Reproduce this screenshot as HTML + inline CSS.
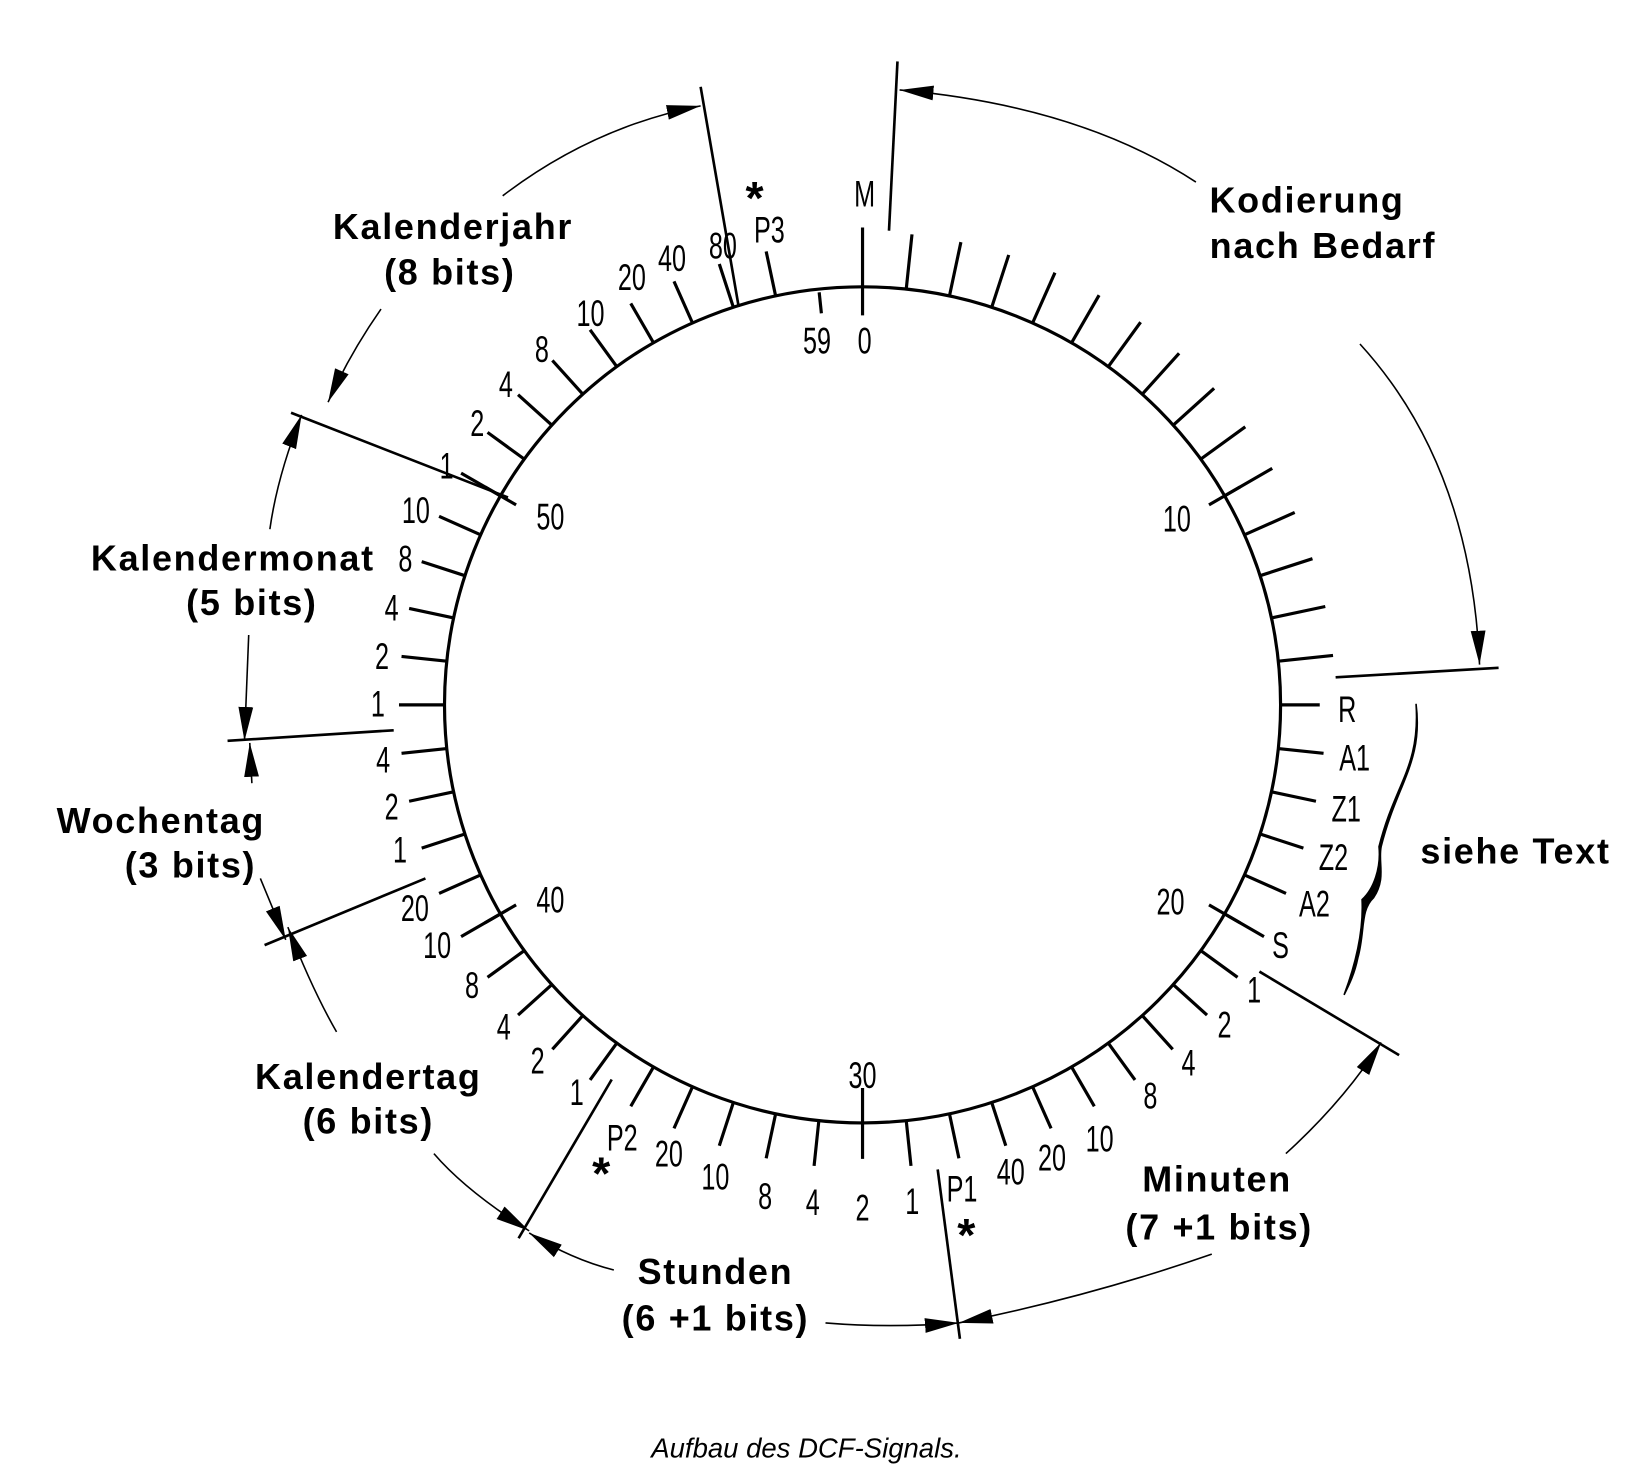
<!DOCTYPE html>
<html><head><meta charset="utf-8"><style>
html,body{margin:0;padding:0;background:#fff}
svg{display:block}
.n{font-family:"Liberation Sans",sans-serif;font-size:35px;fill:#000;text-anchor:middle;dominant-baseline:central;transform-box:fill-box;transform-origin:center;transform:scaleX(0.68)}
.b{font-family:"Liberation Sans",sans-serif;font-weight:bold;font-size:34px;letter-spacing:1.6px;fill:#000;text-anchor:middle}
</style></head><body>
<svg width="1651" height="1469" viewBox="0 0 1560 1388" xmlns="http://www.w3.org/2000/svg">
<defs>
<marker id="a" markerUnits="userSpaceOnUse" markerWidth="34" markerHeight="20" refX="32" refY="10" orient="auto-start-reverse">
<path d="M0,3 L32,10 L0,17 Z" fill="#000"/></marker>
</defs>
<circle cx="815" cy="666" r="395" fill="none" stroke="#000" stroke-width="3"/>
<g id="ticks" stroke="#000" stroke-width="3"></g>
<script>
(function(){
var g=document.getElementById('ticks'),cx=815,cy=666;
function L(s,r1,r2){var a=s*6*Math.PI/180,sn=Math.sin(a),c=Math.cos(a);
var l=document.createElementNS('http://www.w3.org/2000/svg','line');
l.setAttribute('x1',cx+r1*sn);l.setAttribute('y1',cy-r1*c);
l.setAttribute('x2',cx+r2*sn);l.setAttribute('y2',cy-r2*c);g.appendChild(l);}
for(var s=1;s<=58;s++){
 if(s==30)continue;
 if(s<=14)L(s,395,447);else if(s==15)L(s,395,432);else L(s,395,438);
 if(s%10==0)L(s,378,412);}
L(0,368,451);L(30,362,429);L(59,372,392);
})();
</script>
<g>
<text x="817" y="183" class="n">M</text>
<text x="772" y="322" class="n">59</text><text x="817" y="322" class="n">0</text>
<text x="1112" y="490" class="n">10</text><text x="1106" y="852" class="n">20</text>
<text x="815" y="1016" class="n">30</text><text x="520" y="850" class="n">40</text>
<text x="520" y="488" class="n">50</text>
<text x="1273" y="670" class="n">R</text><text x="1280" y="716" class="n">A1</text>
<text x="1272" y="764" class="n">Z1</text><text x="1260" y="810" class="n">Z2</text>
<text x="1242" y="854" class="n">A2</text><text x="1210" y="893" class="n">S</text>
<text x="1185" y="935" class="n">1</text><text x="1157" y="968" class="n">2</text>
<text x="1123" y="1004" class="n">4</text><text x="1087" y="1035" class="n">8</text>
<text x="1039" y="1076" class="n">10</text><text x="994" y="1094" class="n">20</text>
<text x="955" y="1107" class="n">40</text><text x="909" y="1123" class="n">P1</text>
<text x="862" y="1135" class="n">1</text><text x="815" y="1141" class="n">2</text>
<text x="768" y="1136" class="n">4</text><text x="723" y="1130" class="n">8</text>
<text x="676" y="1112" class="n">10</text><text x="632" y="1090" class="n">20</text>
<text x="588" y="1075" class="n">P2</text><text x="545" y="1032" class="n">1</text>
<text x="508" y="1002" class="n">2</text><text x="476" y="970" class="n">4</text>
<text x="446" y="931" class="n">8</text><text x="413" y="893" class="n">10</text>
<text x="392" y="858" class="n">20</text><text x="378" y="803" class="n">1</text>
<text x="370" y="762" class="n">2</text><text x="362" y="718" class="n">4</text>
<text x="357" y="665" class="n">1</text><text x="361" y="620" class="n">2</text>
<text x="370" y="574" class="n">4</text><text x="383" y="528" class="n">8</text>
<text x="393" y="482" class="n">10</text><text x="422" y="440" class="n">1</text>
<text x="451" y="400" class="n">2</text><text x="478" y="363" class="n">4</text>
<text x="512" y="330" class="n">8</text><text x="558" y="296" class="n">10</text>
<text x="597" y="262" class="n">20</text><text x="635" y="244" class="n">40</text>
<text x="683" y="232" class="n">80</text><text x="727" y="217" class="n">P3</text>
</g>
<g font-family="Liberation Sans,sans-serif" font-weight="bold" font-size="44" text-anchor="middle">
<text x="713" y="202">*</text><text x="568" y="1124">*</text><text x="913" y="1182">*</text></g>
<g stroke="#000" stroke-width="2.5" fill="none">
<line x1="662" y1="82" x2="698" y2="290"/>
<line x1="848" y1="58" x2="840" y2="218"/>
<line x1="1262" y1="640" x2="1416" y2="631"/>
<line x1="1190" y1="918" x2="1322" y2="997"/>
<line x1="886" y1="1105" x2="907" y2="1265"/>
<line x1="578" y1="1020" x2="490" y2="1170"/>
<line x1="402" y1="830" x2="250" y2="893"/>
<line x1="215" y1="700" x2="372" y2="690"/>
<line x1="275" y1="390" x2="480" y2="470"/>
</g>
<g stroke="#000" stroke-width="1.5" fill="none">
<path d="M1130,172 Q1020,100 850,85" marker-end="url(#a)"/>
<path d="M1285,325 Q1390,440 1398,628" marker-end="url(#a)"/>
<path d="M360,292 Q330,335 310,380" marker-end="url(#a)"/>
<path d="M475,185 Q560,120 662,100" marker-end="url(#a)"/>
<path d="M255,500 Q262,450 285,392" marker-end="url(#a)"/>
<path d="M235,600 L231,700" marker-end="url(#a)"/>
<path d="M238,740 L236,702" marker-end="url(#a)"/>
<path d="M246,830 L270,888" marker-end="url(#a)"/>
<path d="M318,975 Q295,935 272,876" marker-end="url(#a)"/>
<path d="M410,1090 Q440,1125 500,1163" marker-end="url(#a)"/>
<path d="M580,1200 Q540,1190 500,1165" marker-end="url(#a)"/>
<path d="M780,1250 Q840,1255 906,1250" marker-end="url(#a)"/>
<path d="M1145,1185 Q1030,1225 906,1250" marker-end="url(#a)"/>
<path d="M1215,1090 Q1270,1040 1305,985" marker-end="url(#a)"/>
</g>
<path d="M1338,665 C1345,720 1320,740 1305,800 C1302,815 1310,830 1298,848 C1285,860 1290,880 1283,905 C1280,920 1275,930 1270,940 C1285,900 1288,870 1287,850 C1298,840 1305,820 1303,800 C1318,740 1342,725 1338,665 Z" fill="#000" stroke="#000" stroke-width="1.5"/>
<g>
<text x="428" y="226" class="b">Kalenderjahr</text><text x="425" y="269" class="b">(8 bits)</text>
<text x="220" y="539" class="b">Kalendermonat</text><text x="238" y="581" class="b">(5 bits)</text>
<text x="152" y="787" class="b">Wochentag</text><text x="180" y="829" class="b">(3 bits)</text>
<text x="348" y="1029" class="b">Kalendertag</text><text x="348" y="1071" class="b">(6 bits)</text>
<text x="676" y="1213" class="b">Stunden</text><text x="676" y="1257" class="b">(6 +1 bits)</text>
<text x="1150" y="1126" class="b">Minuten</text><text x="1152" y="1171" class="b">(7 +1 bits)</text>
<text x="1235" y="201" class="b">Kodierung</text><text x="1250" y="244" class="b">nach Bedarf</text>
<text x="1432" y="816" class="b">siehe Text</text>
</g>
<text x="762" y="1377" font-family="Liberation Sans,sans-serif" font-style="italic" font-size="26" text-anchor="middle">Aufbau des DCF-Signals.</text>
</svg>
</body></html>
